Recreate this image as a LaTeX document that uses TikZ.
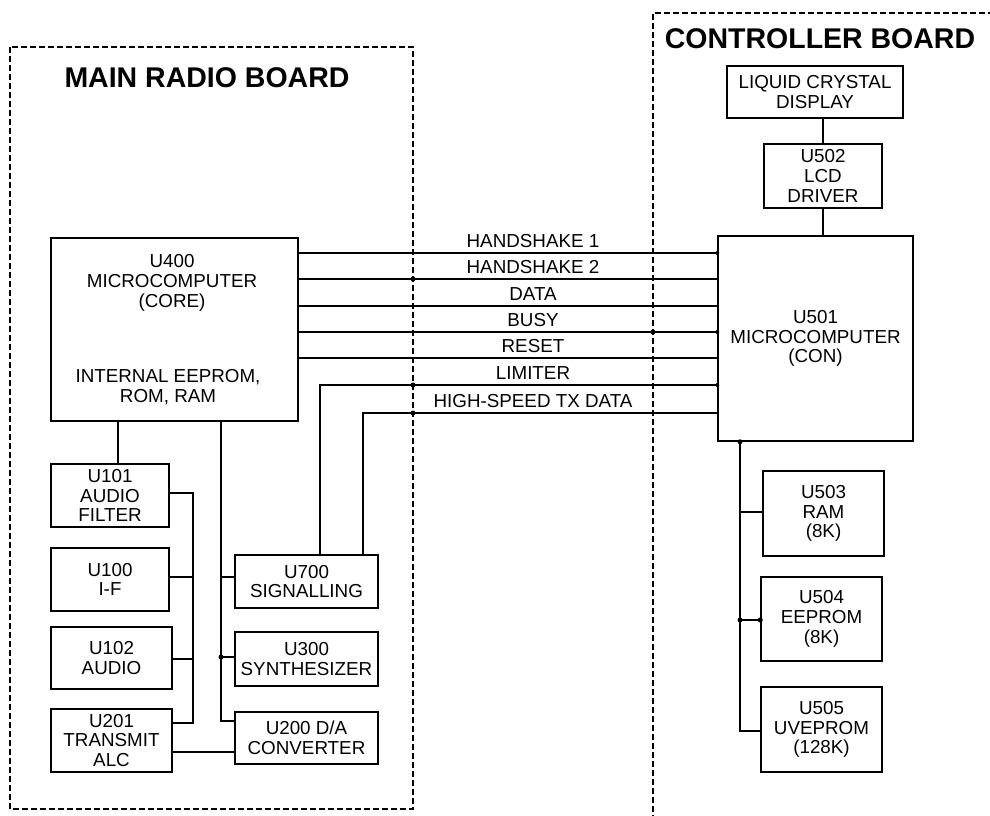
\documentclass[tikz,border=0pt]{standalone}
\usepackage{fontspec}
\setmainfont{Liberation Sans}
\newcommand\blktxt{\fontsize{18.8}{19.8}\selectfont}
\newcommand\ttltxt{\fontsize{28.5}{32}\selectfont\bfseries}
\begin{document}
\begin{tikzpicture}[x=1pt,y=-1pt,
  blk/.style={draw, line width=1.5pt, inner sep=0pt, align=center, font=\blktxt},
  wire/.style={line width=1.4pt},
  board/.style={line width=1.4pt, dash pattern=on 6pt off 3pt},
  sig/.style={font=\blktxt, anchor=base},
  jdot/.style={circle, fill, inner sep=0pt, minimum size=5pt},
  ttl/.style={font=\ttltxt}]
\useasboundingbox (0,0) rectangle (990,815);
\clip (0,0) rectangle (990,815);

% boards
\draw[board] (10,47) rectangle (413,809);
\draw[board] (653,830) -- (653,13) -- (1000,13);
\node[ttl] (tmain) at (207,78) {MAIN RADIO BOARD};
\node[ttl] (tctrl) at (820,39) {CONTROLLER BOARD};

% controller board blocks
\node[blk, minimum width=176pt, minimum height=52pt] (lcd) at (815,92) {LIQUID CRYSTAL\\DISPLAY};
\node[blk, minimum width=118pt, minimum height=64pt] (u502) at (823,176) {U502\\LCD\\DRIVER};
\node[blk, minimum width=195pt, minimum height=205pt] (u501) at (815.5,338.5) {U501\\MICROCOMPUTER\\(CON)};
\node[blk, minimum width=121pt, minimum height=85pt] (u503) at (823.5,513.5) {U503\\RAM\\(8K)};
\node[blk, minimum width=121pt, minimum height=84pt] (u504) at (821.5,619) {U504\\EEPROM\\(8K)};
\node[blk, minimum width=121pt, minimum height=85pt] (u505) at (821.5,729.5) {U505\\UVEPROM\\(128K)};

% main radio board blocks
\node[blk, minimum width=247pt, minimum height=183pt] (u400) at (174.5,329.5) {};
\node[font=\blktxt, align=center] (u400a) at (172,283) {U400\\MICROCOMPUTER\\(CORE)};
\node[font=\blktxt, align=center] (u400b) at (168,387) {INTERNAL EEPROM,\\ROM, RAM};
\node[blk, minimum width=118pt, minimum height=63pt] (u101) at (110,495.5) {U101\\AUDIO\\FILTER};
\node[blk, minimum width=118pt, minimum height=63pt] (u100) at (110,579.5) {U100\\I-F};
\node[blk, minimum width=121pt, minimum height=62pt] (u102) at (111.5,658) {U102\\AUDIO};
\node[blk, minimum width=121pt, minimum height=63pt] (u201) at (111.5,740.5) {U201\\TRANSMIT\\ALC};
\node[blk, minimum width=143pt, minimum height=53pt] (u700) at (306.5,581.5) {U700\\SIGNALLING};
\node[blk, minimum width=143pt, minimum height=54pt] (u300) at (306.5,659) {U300\\SYNTHESIZER};
\node[blk, minimum width=143pt, minimum height=52pt] (u200) at (306.5,738) {U200 D/A\\CONVERTER};

% controller wiring
\draw[wire] (u502.north) -- (u502.north |- lcd.south);
\draw[wire] (u502.south) -- (u502.south |- u501.north);
\coordinate (rb) at (740,0);
\coordinate (r3) at (740,512);
\coordinate (r4) at (740,620);
\coordinate (r5) at (740,731);
\draw[wire] (u501.south -| rb) -- (r5) -- (u505.west |- r5);
\draw[wire] (r3) -- (u503.west |- r3);
\draw[wire] (r4) -- (u504.west |- r4);
\node[jdot] (d1) at (u501.south -| rb) {};
\node[jdot] (d2) at (r4) {};
\node[jdot] (d3) at (u504.west |- r4) {};

% signal lines
\coordinate (yh1) at (0,253);
\coordinate (yh2) at (0,279);
\coordinate (yda) at (0,306);
\coordinate (ybu) at (0,332);
\coordinate (yre) at (0,358);
\coordinate (lk) at (320,385);
\coordinate (hk) at (363,413);
\draw[wire] (u400.east |- yh1) -- (u501.west |- yh1);
\draw[wire] (u400.east |- yh2) -- (u501.west |- yh2);
\draw[wire] (u400.east |- yda) -- (u501.west |- yda);
\draw[wire] (u400.east |- ybu) -- (u501.west |- ybu);
\draw[wire] (u400.east |- yre) -- (u501.west |- yre);
\draw[wire] (u501.west |- lk) -- (lk) -- (lk |- u700.north);
\draw[wire] (u501.west |- hk) -- (hk) -- (hk |- u700.north);
\node[sig] (lh1) at (533,247) {HANDSHAKE 1};
\node[sig] (lh2) at (533,273) {HANDSHAKE 2};
\node[sig] (lda) at (533,300) {DATA};
\node[sig] (lbu) at (533,326) {BUSY};
\node[sig] (lre) at (533,352) {RESET};
\node[sig] (lli) at (533,379) {LIMITER};
\node[sig] (lhs) at (533,407) {HIGH-SPEED TX DATA};
\node[jdot] (e1) at (413,279) {};
\node[jdot] (e2) at (413,385) {};
\node[jdot] (e3) at (413,413) {};
\node[jdot] (e4) at (653,332) {};
\node[jdot, minimum size=4pt] (e5) at (u501.west |- yh1) {};
\node[jdot, minimum size=4pt] (e6) at (u501.west |- ybu) {};
\node[jdot, minimum size=4pt] (e7) at (u501.west |- lk) {};

% main board wiring
\coordinate (b1) at (118,0);
\draw[wire] (u400.south -| b1) -- (b1 |- u101.north);
\coordinate (ab) at (193,493);
\coordinate (abb) at (193,723);
\coordinate (a0) at (193,577);
\coordinate (a2) at (193,659);
\draw[wire] (u101.east |- ab) -- (ab) -- (abb) -- (u201.east |- abb);
\draw[wire] (u100.east |- a0) -- (a0);
\draw[wire] (u102.east |- a2) -- (a2);
\coordinate (ct) at (0,752);
\draw[wire] (u201.east |- ct) -- (u200.west |- ct);
\coordinate (cb) at (221,0);
\coordinate (c7) at (221,577);
\coordinate (c3) at (221,657);
\coordinate (c2) at (221,721);
\draw[wire] (u400.south -| cb) -- (c2) -- (u200.west |- c2);
\draw[wire] (c7) -- (u700.west |- c7);
\draw[wire] (c3) -- (u300.west |- c3);
\node[jdot] (d4) at (c3) {};
\end{tikzpicture}
\end{document}
